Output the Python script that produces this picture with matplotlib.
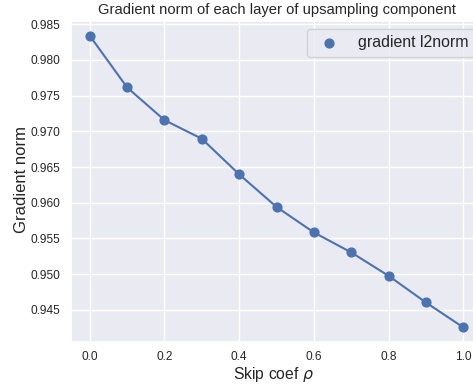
import matplotlib
matplotlib.use("Agg")
import matplotlib.pyplot as plt
import seaborn as sns

sns.set_theme(style="darkgrid")
plt.rcParams["font.family"] = ["Liberation Sans", "DejaVu Sans"]

skip_coef = [0.0, 0.1, 0.2, 0.3, 0.4, 0.5, 0.6, 0.7, 0.8, 0.9, 1.0]
grad_norm = [0.98340, 0.97615, 0.97157, 0.96896, 0.96398, 0.95941,
             0.95584, 0.95304, 0.94976, 0.94603, 0.94254]

BLUE = "#4c72b0"

fig = plt.figure(figsize=(4.73, 3.86), dpi=100)
# axes run a bit past the right edge, as in the reference
ax = fig.add_axes([71 / 473, 44 / 386, 411 / 473, 321 / 386])

ax.plot(skip_coef, grad_norm, color=BLUE, linewidth=1.5, zorder=2)
ax.scatter(skip_coef, grad_norm, color=BLUE, s=40, zorder=3, label="gradient l2norm")

ax.set_xticks([0.0, 0.2, 0.4, 0.6, 0.8, 1.0])
ax.set_yticks([0.945, 0.950, 0.955, 0.960, 0.965, 0.970, 0.975, 0.980, 0.985])
ax.tick_params(axis="both", labelsize=8.6, length=0)
ax.tick_params(axis="x", pad=6.5)
ax.tick_params(axis="y", pad=8)

ax.set_xlabel(r"Skip coef $\rho$", fontsize=11.3)
ax.set_ylabel("Gradient norm", fontsize=12)
ax.xaxis.set_label_coords(0.493, -0.072)
ax.yaxis.set_label_coords(-0.103, 0.505)
ax.set_title("Gradient norm of each layer of upsampling component", fontsize=10.6, pad=5)

fig.legend(loc="upper left", bbox_to_anchor=(307 / 473, 1 - 29 / 386),
           borderaxespad=0, fontsize=11.4, scatterpoints=1)

fig.savefig("out.png", dpi=100)
